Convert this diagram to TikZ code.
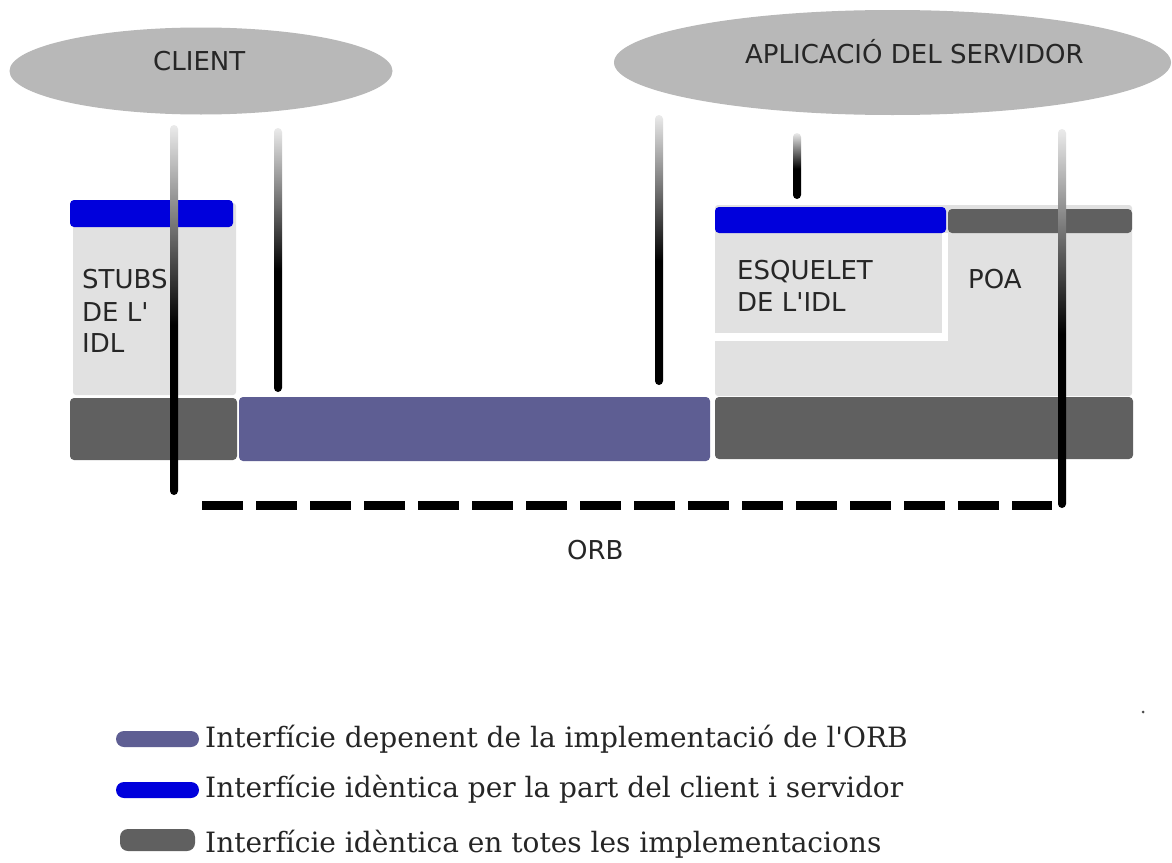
\documentclass[tikz,border=0pt]{standalone}
\usepackage{fontspec}
\usetikzlibrary{shapes.geometric}
\newfontfamily\labelfont{DejaVu Sans}
\newfontfamily\legendfont{DejaVu Serif}
\definecolor{ellgray}{HTML}{B8B8B8}
\definecolor{boxgray}{HTML}{E1E1E1}
\definecolor{darkbar}{HTML}{606060}
\definecolor{orbpurple}{HTML}{5E5E93}
\definecolor{idlblue}{HTML}{0000DC}
\definecolor{txt}{HTML}{262626}
\pgfdeclareverticalshading{vlineshade}{100bp}{color(0bp)=(black); color(25bp)=(black); color(48bp)=(black); color(75bp)=(black!8); color(100bp)=(black!8)}
\begin{document}
\begin{tikzpicture}[x=1pt,y=-1pt,
  lbl/.style={font=\labelfont\fontsize{26}{30}\selectfont, text=txt, inner sep=0pt, anchor=base west},
  leg/.style={font=\legendfont\fontsize{28}{32}\selectfont, text=txt, inner sep=0pt, anchor=base west},
  ell/.style={ellipse, fill=ellgray, draw=none, inner sep=0pt},
  bar/.style={inner sep=0pt, outer sep=0pt, anchor=north west, rounded corners=4pt, draw=none},
  vline/.style={shading=vlineshade, rounded corners=4pt},
]
\useasboundingbox[fill=white] (0,0) rectangle (1172,862);

% ellipses
\node[ell, minimum width=383pt, minimum height=87pt] (client) at (201,71) {};
\node[ell, minimum width=557pt, minimum height=105pt] (server) at (892.5,62.5) {};
\node[lbl] (clienttxt) at (153,70) {CLIENT};
\node[lbl] (servertxt) at (745,63) {APLICACIÓ DEL SERVIDOR};

% client side
\node[bar, fill=boxgray, rounded corners=3pt, minimum width=163pt, minimum height=192pt] (stubbox) at (73,203) {};
\node[bar, fill=idlblue, minimum width=163pt, minimum height=27pt] (stubblue) at (70,200) {};
\node[bar, fill=darkbar, minimum width=167pt, minimum height=62pt] (stuborb) at (70,398) {};
\node[lbl] (stubs1) at (82,288) {STUBS};
\node[lbl] (stubs2) at (82,321) {DE L'};
\node[lbl] (stubs3) at (82,352) {IDL};

% ORB dependent
\node[bar, fill=orbpurple, minimum width=471pt, minimum height=64pt] (orbbar) at (239,397) {};

% server side
\node[bar, fill=boxgray, rounded corners=3pt, minimum width=417pt, minimum height=191pt] (srvbox) at (715,205) {};
\node[bar, fill=white, rounded corners=0pt, minimum width=233pt, minimum height=108pt] (skelgap) at (715,233) {};
\node[bar, fill=boxgray, rounded corners=0pt, minimum width=227pt, minimum height=100pt] (skelbox) at (715,233) {};
\node[bar, fill=idlblue, minimum width=231pt, minimum height=26pt] (skelblue) at (715,207) {};
\node[bar, fill=darkbar, minimum width=184pt, minimum height=24pt] (poabar) at (948,209) {};
\node[bar, fill=darkbar, minimum width=418pt, minimum height=62pt] (srvorb) at (715,397) {};
\node[lbl] (skel1) at (737,279) {ESQUELET};
\node[lbl] (skel2) at (737,311) {DE L'IDL};
\node[lbl] (poatxt) at (968,288) {POA};

% vertical links
\shade[vline] (170,125) rectangle (178,495);
\shade[vline] (274,128) rectangle (282,392);
\shade[vline] (655,115) rectangle (663,385);
\shade[vline] (793,133) rectangle (801,199);
\shade[vline] (1058,129) rectangle (1066,508);

% ORB dashed line
\coordinate (dashL) at (202,505);
\coordinate (dashR) at (1052,505);
\draw[line width=9pt, dash pattern=on 41pt off 13pt] (dashL) -- (dashR);
\node[lbl] (orbtxt) at (567,559) {ORB};

% legend
\node[bar, fill=orbpurple, rounded corners=8pt, minimum width=83pt, minimum height=16pt] (leg1) at (116,731) {};
\node[bar, fill=idlblue, rounded corners=8pt, minimum width=83pt, minimum height=16pt] (leg2) at (116,782) {};
\node[bar, fill=darkbar, rounded corners=8pt, minimum width=75pt, minimum height=22pt] (leg3) at (120,829) {};
\node[leg] (leg1txt) at (205,747) {Interfície depenent de la implementació de l'ORB};
\node[leg] (leg2txt) at (205,797) {Interfície idèntica per la part del client i servidor};
\node[leg] (leg3txt) at (205,852) {Interfície idèntica en totes les implementacions};

\fill[black!70] (1143,712) circle (1.5pt);
\end{tikzpicture}
\end{document}
